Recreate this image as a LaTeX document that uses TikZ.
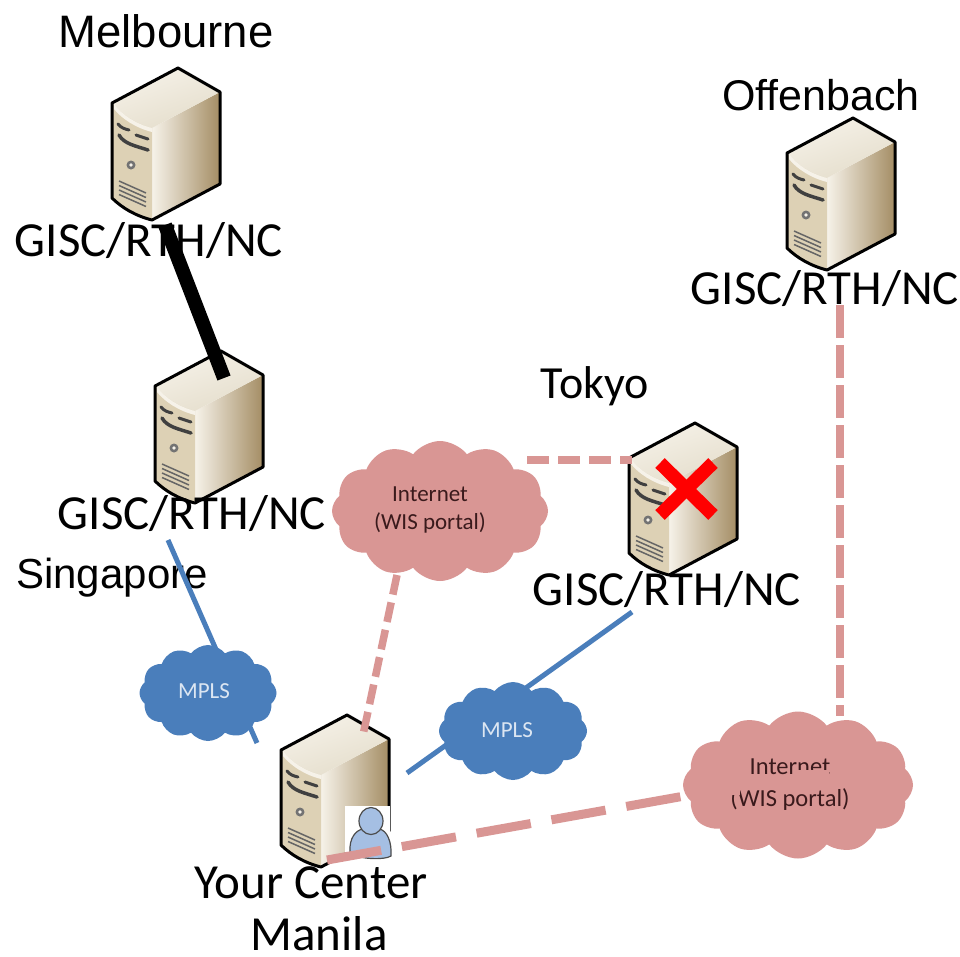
\documentclass[tikz,border=0pt]{standalone}
\usepackage{fontspec}
\setmainfont{Carlito}
\newfontfamily\arialf{Liberation Sans}
\usetikzlibrary{shapes.symbols}
\definecolor{pinkc}{HTML}{D99694}
\definecolor{bluec}{HTML}{4A7EBB}
\definecolor{mplst}{HTML}{DCE6F2}
\definecolor{inett}{HTML}{3A1A1C}
\definecolor{srvwhite}{HTML}{F6F2E9}
\definecolor{srvmid}{HTML}{DCCFB2}
\definecolor{srvtan}{HTML}{A48D64}
\definecolor{srvfront}{HTML}{DDD1B5}
\definecolor{srvtop}{HTML}{E4DDCB}
\definecolor{persona}{HTML}{A5BFE3}
\tikzset{
  x=1pt,y=-1pt,
  srvline/.style={line width=3pt,line join=round,black},
  lbl/.style={anchor=base,inner sep=0pt,font=\fontsize{49}{49}\selectfont,text=black},
  arl/.style={anchor=base,inner sep=0pt,text=black},
  cloudbase/.style={cloud,cloud ignores aspect,draw=none,inner sep=0pt,cloud puff arc=105},
  pinkcl/.style={cloudbase,fill=pinkc,cloud puffs=12},
  bluecl/.style={cloudbase,fill=bluec,cloud puffs=12},
  pinkdash/.style={draw=pinkc,line width=7.5pt},
  blueln/.style={draw=bluec,line width=5pt},
  cltext/.style={anchor=base,inner sep=0pt,text=inett,font=\fontsize{23}{23}\selectfont},
  mpltext/.style={anchor=center,inner sep=0pt,text=mplst,font=\fontsize{23}{23}\selectfont},
  server/.pic={
    \shade[left color=srvwhite,middle color=srvmid,right color=srvtan]
       (40,60) -- (108,24) -- (108,116) -- (40,152) -- cycle;
    \shade[top color=srvtop,bottom color=srvwhite,shading angle=200]
       (66,0) -- (108,24) -- (40,60) .. controls (24,56) and (10,47) .. (0,35) -- cycle;
    \fill[srvfront]
       (0,35) .. controls (10,47) and (24,56) .. (40,60) -- (40,152) .. controls (24,148) and (10,140) .. (0,130) -- cycle;
    \fill[srvwhite] (2,36) .. controls (10,47) and (24,56) .. (40,60) -- (40,64) .. controls (24,60) and (10,51) .. (2,41) -- cycle;
    \draw[srvline] (66,0) -- (108,24) -- (108,116) -- (40,152) .. controls (24,148) and (10,140) .. (0,130) -- (0,35) -- cycle;
    \draw[line width=3pt,black!75,line cap=round] (6,56) .. controls (9,60) and (13,61) .. (17,62) (24,67) -- (36,71);
    \draw[line width=3.5pt,black!75,line cap=round] (7,67) .. controls (12,76) and (24,78) .. (36,82);
    \fill[black!55] (19,97) circle[radius=4.5];
    \fill[srvwhite] (19,97) circle[radius=1.8];
    \foreach \d in {0,4.5,9,13.5}{
      \draw[line width=1.5pt,black!60] (7,113+\d) -- (34,125+\d);
    }
  }
}
\begin{document}
\begin{tikzpicture}
\useasboundingbox (0,0) rectangle (960,956);
\fill[white] (0,0) rectangle (960,956);

% servers
\pic at (112,68) {server};
\pic at (155,351) {server};
\pic at (629,423) {server};
\pic at (787,118) {server};
\pic at (281,715) {server};

% user icon
\fill[white] (345,806) rectangle (390,866);
\fill[fill=persona,draw=black!70,line width=1.2pt]
  (350,852) .. controls (349,838) and (356,830) .. (363,829) -- (379,829)
  .. controls (387,830) and (392,842) .. (391,856) .. controls (385,860) and (358,860) .. (350,852) -- cycle;
\fill[fill=persona,draw=black!70,line width=1.2pt] (371,821) ellipse[x radius=12,y radius=13.5];

% labels
\node[arl,font=\arialf\fontsize{45.5}{45.5}\selectfont] (lmel) at (166,47) {Melbourne};
\node[lbl] (g1) at (149,256) {GISC/RTH/NC};
\node[lbl] (g2) at (192,529) {GISC/RTH/NC};
\node[arl,font=\arialf\fontsize{42}{42}\selectfont] (lsin) at (112,588) {Singapore};
\node[lbl,font=\fontsize{46}{46}\selectfont] (ltok) at (595,398) {Tokyo};
\node[lbl] (g3) at (667,605) {GISC/RTH/NC};
\node[arl,font=\arialf\fontsize{43}{43}\selectfont] (loff) at (821,110) {Offenbach};
\node[lbl] (g4) at (825,304) {GISC/RTH/NC};
\node[lbl] (lyou) at (311,898) {Your Center};
\node[lbl] (lman) at (319,950) {Manila};

% connector ends
\coordinate (melb) at (165,225);
\coordinate (sing) at (224,378);
\coordinate (singb) at (168,540);
\coordinate (manl) at (257,743);
\coordinate (tokb) at (632,612);
\coordinate (manr) at (407,773);
\coordinate (toka) at (632,460);
\coordinate (cl1r) at (527,460);
\coordinate (cl1b) at (397,575);
\coordinate (mant) at (363,735);
\coordinate (offb) at (840,305);
\coordinate (cl2t) at (840,716);
\coordinate (manb) at (327,860);
\coordinate (cl2l) at (690,795);

% connectors
\draw[black,line width=14pt] (melb) -- (sing);
\draw[blueln] (singb) -- (manl);
\draw[blueln] (tokb) -- (manr);
\draw[pinkdash,dash pattern=on 22pt off 9pt] (cl1r) -- (toka);
\draw[pinkdash,dash pattern=on 20pt off 8pt] (cl1b) -- (mant);
\draw[pinkdash,dash pattern=on 33pt off 7pt] (offb) -- (cl2t);
\draw[pinkdash,line width=9pt,dash pattern=on 55pt off 21pt] (manb) -- (cl2l);

% clouds
\node[pinkcl,minimum width=216pt,minimum height=140pt] (inet1) at (440,511) {};
\node[pinkcl,minimum width=230pt,minimum height=147pt] (inet2) at (798,785) {};
\node[bluecl,minimum width=137pt,minimum height=96pt] (mpls1) at (208,693) {};
\node[bluecl,minimum width=148pt,minimum height=98pt] (mpls2) at (513,731) {};

\node[cltext] (t1a) at (430,501) {Internet};
\node[cltext] (t1b) at (430,529) {(WIS portal)};
\node[cltext,font=\fontsize{24.5}{24.5}\selectfont] (t2a) at (790,774) {Internet};
\node[cltext,font=\fontsize{24.5}{24.5}\selectfont] (t2b) at (790,806) {(WIS portal)};
\fill[pinkc] (798,770) rectangle (829,777);
\fill[pinkc] (728,786) rectangle (740,795);
\node[mpltext] (t3) at (204,691) {MPLS};
\node[mpltext] (t4) at (507,730) {MPLS};

% cross
\draw[red,line width=13.5pt] (660,463) -- (713,515);
\draw[red,line width=13.5pt] (713,463) -- (660,515);
\end{tikzpicture}
\end{document}
